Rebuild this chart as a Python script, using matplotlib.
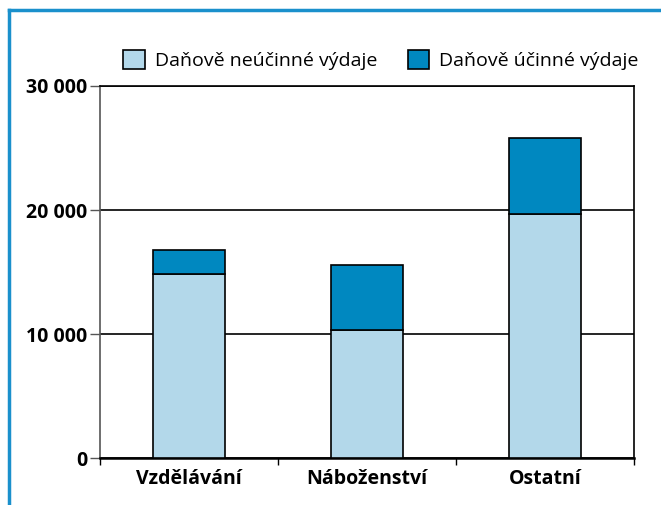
import matplotlib.pyplot as plt
import numpy as np
from matplotlib.lines import Line2D

plt.rcParams['font.family'] = ['Open Sans', 'DejaVu Sans']

categories = ['Vzdělávání', 'Náboženství', 'Ostatní']
neucinne = [14800, 10300, 19700]
ucinne = [2000, 5300, 6100]
series_labels = ['Daňově neúčinné výdaje', 'Daňově účinné výdaje']
yticks = [0, 10000, 20000, 30000]
ytick_labels = ['0', '10 000', '20 000', '30 000']

light = '#b3d8ea'
dark = '#0088c0'

fig = plt.figure(figsize=(6.61, 5.05), dpi=100)
ax = fig.add_axes([100 / 661, 47 / 505, 534 / 661, 372 / 505])

x = np.arange(len(categories))
b1 = ax.bar(x, neucinne, width=0.4, color=light, edgecolor='black', linewidth=1.2, zorder=3)
b2 = ax.bar(x, ucinne, width=0.4, bottom=neucinne, color=dark, edgecolor='black', linewidth=1.2, zorder=3)

ax.set_xlim(-0.5, 2.5)
ax.set_ylim(0, 30000)
ax.set_yticks(yticks)
ax.set_yticklabels(ytick_labels, fontweight='bold', fontsize=14)
ax.set_xticks(x)
ax.set_xticklabels(categories, fontweight='bold', fontsize=14)
ax.tick_params(axis='x', length=0, pad=8)
ax.set_xticks([-0.5, 0.5, 1.5, 2.5], minor=True)
ax.tick_params(axis='x', which='minor', length=5, width=1, color='black')
ax.tick_params(axis='y', length=7, width=1, color='#555555', pad=2)

ax.grid(axis='y', color='black', linewidth=1.2, zorder=0)
ax.spines['left'].set_color('#555555')
ax.spines['left'].set_linewidth(1.2)
ax.spines['bottom'].set_linewidth(1.8)
ax.spines['top'].set_linewidth(1.2)
ax.spines['right'].set_linewidth(1.2)

leg = fig.legend([b1, b2], series_labels, loc='center', bbox_to_anchor=(381 / 661, 1 - 60 / 505),
                 ncol=2, frameon=False, fontsize=14, handlelength=1.1, handleheight=1.1,
                 columnspacing=1.6, handletextpad=0.5)

# blue frame
fig.add_artist(Line2D([9 / 661, 9 / 661], [0, 1 - 10 / 505], color='#1a90cc', linewidth=2.5))
fig.add_artist(Line2D([9 / 661, 1], [1 - 10 / 505, 1 - 10 / 505], color='#1a90cc', linewidth=2.5))

fig.savefig('out.png', dpi=100)
